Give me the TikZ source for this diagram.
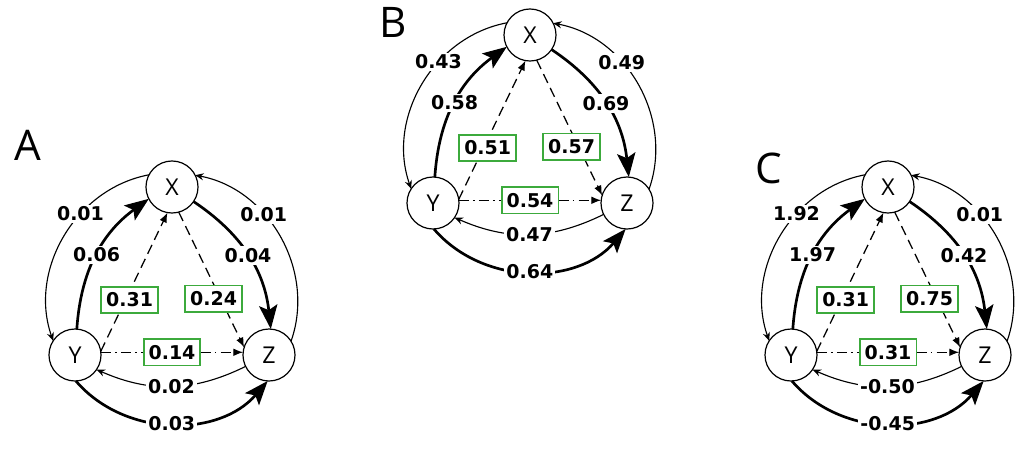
\documentclass[tikz,border=0pt]{standalone}
\usepackage{fontspec}
\setmainfont{DejaVu Sans}
\newfontfamily\letterfont{Open Sans}
\usetikzlibrary{arrows.meta}
\definecolor{boxgreen}{RGB}{60,170,60}

\begin{document}
\begin{tikzpicture}[x=0.025cm, y=-0.025cm,
  state/.style={circle, draw, line width=0.85pt, minimum size=1.3cm, inner sep=0pt, outer sep=0pt,
    font=\letterfont\fontsize{16.5}{18}\selectfont},
  thin arc/.style={line width=0.8pt, -{Stealth[length=6pt,width=5pt]}},
  thick arc/.style={line width=1.9pt, -{Stealth[length=17pt,width=13pt,inset=3.5pt]}},
  dash arc/.style={line width=0.9pt, dash pattern=on 7pt off 4pt, -{Latex[length=7pt,width=5.5pt]}},
  dashdot arc/.style={line width=0.9pt, dash pattern=on 7pt off 3pt on 1.2pt off 3pt, -{Latex[length=7pt,width=5.5pt]}},
  coef/.style={fill=white, inner sep=1.5pt, font=\fontsize{13.5}{15}\selectfont\bfseries},
  gbox/.style={coef, solid, draw=boxgreen, line width=1.3pt, minimum width=1.42cm, minimum height=0.66cm, inner sep=0pt},
  panel/.style={font=\letterfont\fontsize{30}{32}\selectfont}
]
\useasboundingbox (0,0) rectangle (1024,448);

% Panel letters
\node[panel] (labA) at (28,145) {A};
\node[panel] (labB) at (393,22) {B};
\node[panel] (labC) at (769,168) {C};

\foreach \p/\cx/\cy/\lo/\ro/\yx/\xz/\zy/\yz/\byx/\bxz/\byz in {
  A/172/299/0.01/0.01/0.06/0.04/0.02/0.03/0.31/0.24/0.14,
  B/530/147/0.43/0.49/0.58/0.69/0.47/0.64/0.51/0.57/0.54,
  C/888/299/1.92/0.01/1.97/0.42/-0.50/-0.45/0.31/0.75/0.31}
{
% States
\node[state] (X\p) at (\cx,\cy-112) {X};
\node[state] (Y\p) at (\cx-97,\cy+56) {Y};
\node[state] (Z\p) at (\cx+97,\cy+56) {Z};

% Outer arcs
\draw[thin arc] (X\p.152.8) to[bend right=49.4] node[coef,pos=0.37] {\lo} (Y\p.147.2);
\draw[thin arc] (Z\p.32.8) to[bend right=49.4] node[coef,pos=0.63] {\ro} (X\p.27.2);
\draw[thick arc] (Y\p.272.8) to[bend right=49.4] node[coef] {\yz} (Z\p.267.2);

% Inner arcs
\draw[thick arc] (Y\p.86) to[bend left=25] node[coef,pos=0.5] {\yx} (X\p.207);
\draw[thick arc] (X\p.-34) to[bend left=25] node[coef,pos=0.5] {\xz} (Z\p.86);
\draw[thin arc] (Z\p.206) to[bend left=25] node[coef] {\zy} (Y\p.-34);

% Dashed paths
\draw[dash arc] (Y\p.8) -- node[gbox,pos=0.37,xshift=3pt] {\byx} (X\p.-100);
\draw[dash arc] (X\p.-75) -- node[gbox,pos=0.64,xshift=-5pt] {\bxz} (Z\p.163);
\draw[dashdot arc] (Y\p.6) -- node[gbox] {\byz} (Z\p.174);
}

\end{tikzpicture}
\end{document}
